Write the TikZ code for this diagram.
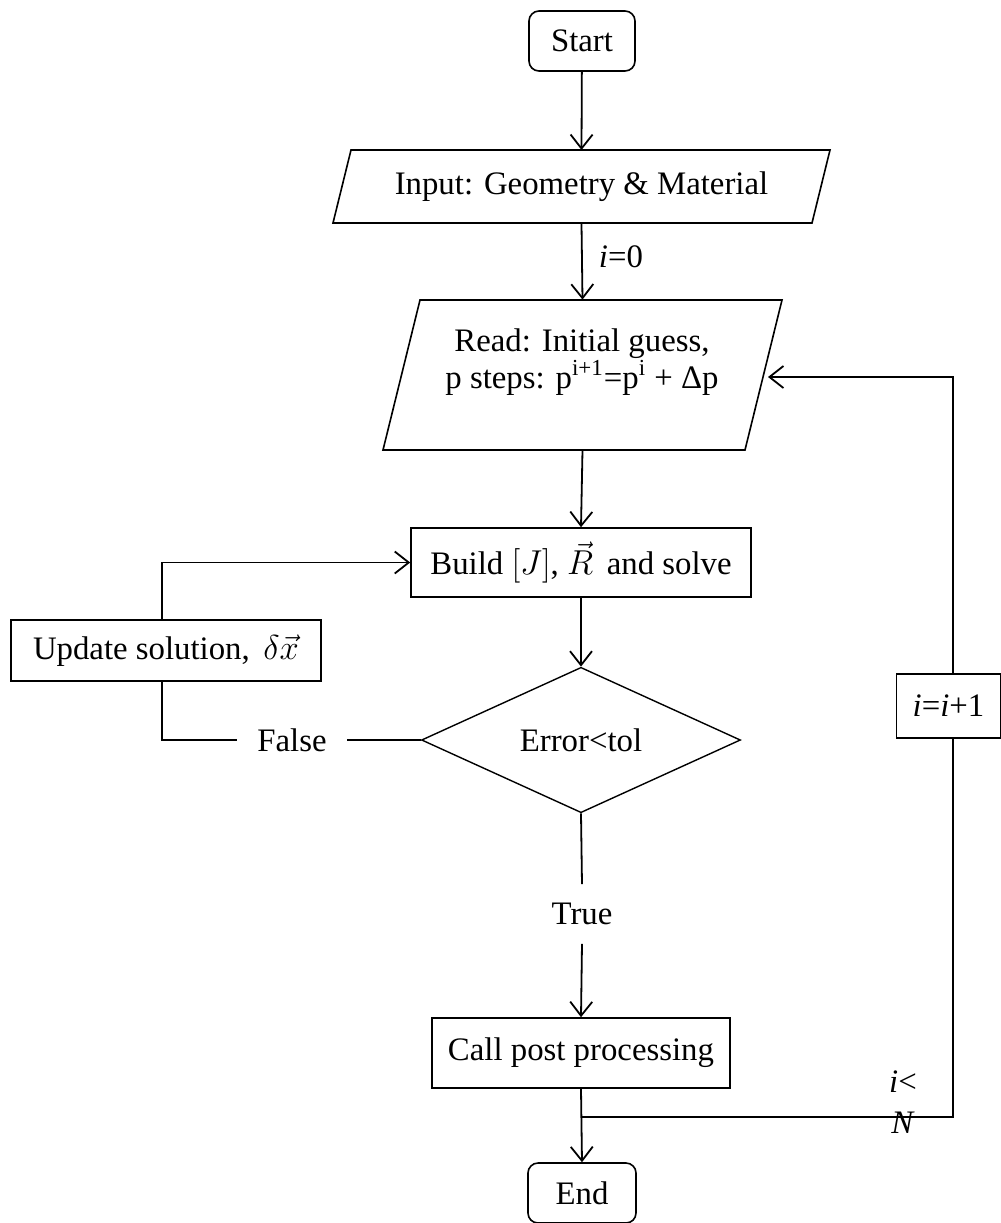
\documentclass[tikz,border=0pt]{standalone}
\usepackage{fontspec}
\setmainfont{Liberation Serif}
\usetikzlibrary{arrows.meta,shapes.geometric}
\begin{document}
\begin{tikzpicture}[x=0.5pt,y=-0.5pt,
  every node/.style={font=\fontsize{16.4}{19}\selectfont, inner sep=0pt},
  box/.style={draw, line width=0.8pt},
  term/.style={box, rounded corners=5pt},
  conn/.style={line width=0.9pt},
  arr/.style={conn, -{Straight Barb[length=7pt,width=11pt,line width=0.9pt]}},
]
\useasboundingbox (0,0) rectangle (1001,1223);

% nodes
\node[term, minimum width=53pt, minimum height=30pt] (start) at (582,41) {Start};

\draw[box] (351,150) -- (830,150) -- (812,223) -- (333,223) -- cycle;
\node[minimum width=200pt, minimum height=36.5pt] (input) at (581.5,186.5) {Input: Geometry \& Material};

\draw[box] (420,300) -- (782,300) -- (745,450) -- (383,450) -- cycle;
\node[minimum width=150pt, minimum height=75pt] (read) at (582.5,375) {};
\node[align=center, font=\fontsize{16.4}{15.5}\selectfont] (readtxt) at (582,362)
  {Read: Initial guess,\\ p steps: p\textsuperscript{i+1}=p\textsuperscript{i} + Δp};

\node[box, minimum width=170pt, minimum height=34.5pt] (build) at (581,562.5)
  {Build $\bigl[J\bigr]$, $\vec{R}$\, and solve};

\node[box, minimum width=155pt, minimum height=30.5pt] (update) at (166,650.5)
  {Update solution,\, $\delta\vec{x}$};

\node[draw, diamond, line width=0.7pt, minimum width=159.5pt, minimum height=67pt] (dec) at (581,740) {Error<tol};

\node[minimum width=55pt] (false) at (292,740) {False};
\node[minimum height=29.5pt] (true) at (582,914) {True};

\node[box, minimum width=149pt, minimum height=35pt] (call) at (581,1053) {Call post processing};
\node[term, minimum width=54pt, minimum height=30pt] (end) at (582,1193) {End};

\node[box, minimum width=52pt, minimum height=32pt] (ibox) at (948.5,706) {\textit{i}=\textit{i}+1};

\node (i0) at (621,257) {\textit{i}=0};
\node[align=center, font=\fontsize{16.4}{20.5}\selectfont] (iN) at (903,1102) {\textit{i}<\\\textit{N}};

\coordinate (readR) at (768,377);
\coordinate (loopc) at (953,1117);

% connectors
\draw[arr] (start) -- (input.south |- 0,150);
\draw[arr] (input.south) -- (read.north);
\draw[arr] (read.south) -- (build.north);
\draw[arr] (build.south) -- (dec.north);
\draw[conn] (dec.west) -- (false.east);
\draw[conn] (false.west) -| ([xshift=-2pt]update.south);
\draw[arr] ([xshift=-2pt]update.north) |- (build.west);
\draw[conn] (dec.south) -- (true.north);
\draw[arr] (true.south) -- (call.north);
\draw[arr] (call.south) -- (end.north);
\draw[conn] (call.south |- loopc) -- (loopc) -- (ibox.south -| loopc);
\draw[arr] (ibox.north -| loopc) |- (readR);
\end{tikzpicture}
\end{document}
